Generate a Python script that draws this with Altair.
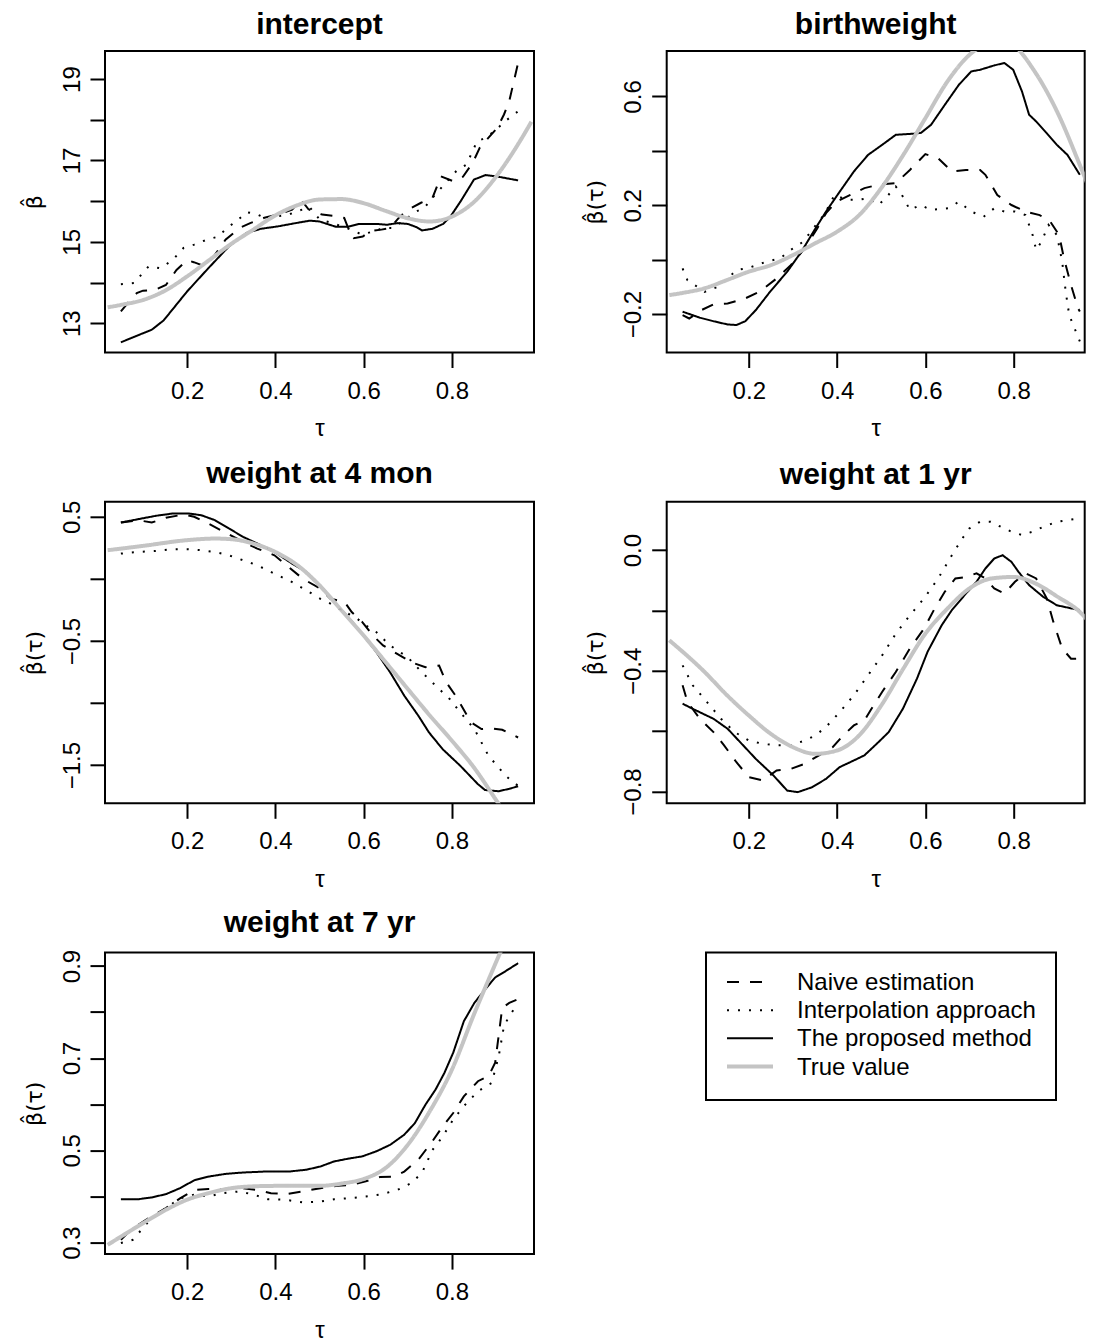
import altair as alt
import pandas as pd

METHODS = ["Naive estimation", "Interpolation approach", "The proposed method", "True value"]
COLORS = ["black", "black", "black", "#c4c4c4"]
DASHES = [[12, 11], [2, 9], [1, 0], [1, 0]]
TAU_TICKS = [0.2, 0.4, 0.6, 0.8]
TAU_DOMAIN_LEFT = [0.014, 0.986]
TAU_DOMAIN_RIGHT = [0.014, 0.961]   # right column is cut at the page edge, as in the reference

# ---- intercept ----
INT_NAIVE = [(0.05, 13.29), (0.07, 13.55), (0.086, 13.74), (0.10, 13.80), (0.128, 13.82), (0.152, 13.94),
             (0.176, 14.31), (0.20, 14.55), (0.215, 14.50), (0.24, 14.40), (0.263, 14.68), (0.287, 15.05),
             (0.319, 15.34), (0.343, 15.46), (0.375, 15.59), (0.406, 15.67), (0.438, 15.79), (0.458, 16.04),
             (0.475, 15.80), (0.506, 15.67), (0.53, 15.64), (0.556, 15.59), (0.565, 15.34), (0.578, 15.09),
             (0.598, 15.13), (0.614, 15.26), (0.64, 15.30), (0.66, 15.34), (0.683, 15.63), (0.706, 15.82),
             (0.73, 15.96), (0.756, 16.08), (0.775, 16.61), (0.803, 16.49), (0.825, 16.60), (0.847, 16.94),
             (0.863, 17.31), (0.883, 17.56), (0.903, 17.80), (0.918, 18.13), (0.93, 18.46), (0.95, 19.40)]
INT_INTERP = [(0.05, 13.96), (0.08, 13.99), (0.113, 14.40), (0.14, 14.35), (0.168, 14.56), (0.192, 14.85),
              (0.216, 14.93), (0.244, 15.05), (0.271, 15.13), (0.29, 15.34), (0.311, 15.50), (0.335, 15.73),
              (0.358, 15.68), (0.383, 15.55), (0.406, 15.63), (0.43, 15.67), (0.454, 15.77), (0.478, 15.85),
              (0.50, 15.55), (0.529, 15.46), (0.56, 15.35), (0.596, 15.18), (0.624, 15.26), (0.644, 15.34),
              (0.667, 15.34), (0.694, 15.55), (0.72, 15.75), (0.737, 15.83), (0.762, 16.16), (0.786, 16.45),
              (0.81, 16.74), (0.833, 16.90), (0.857, 17.47), (0.877, 17.56), (0.90, 17.76), (0.925, 18.00),
              (0.95, 18.21)]
INT_PROP = [(0.05, 12.53), (0.097, 12.74), (0.12, 12.84), (0.147, 13.07), (0.20, 13.78), (0.248, 14.35),
            (0.295, 14.89), (0.335, 15.22), (0.367, 15.32), (0.406, 15.38), (0.446, 15.46), (0.478, 15.52),
            (0.50, 15.50), (0.537, 15.37), (0.565, 15.37), (0.59, 15.44), (0.63, 15.44), (0.653, 15.42),
            (0.677, 15.46), (0.70, 15.44), (0.72, 15.36), (0.732, 15.28), (0.756, 15.32), (0.78, 15.44),
            (0.796, 15.61), (0.82, 16.00), (0.85, 16.53), (0.876, 16.64), (0.90, 16.61), (0.95, 16.51)]
INT_TRUE = [(0.02, 13.39), (0.05, 13.45), (0.10, 13.57), (0.15, 13.80), (0.20, 14.15), (0.25, 14.55),
            (0.30, 14.95), (0.35, 15.30), (0.40, 15.65), (0.45, 15.90), (0.50, 16.04), (0.55, 16.05),
            (0.60, 15.95), (0.65, 15.76), (0.70, 15.58), (0.75, 15.50), (0.80, 15.62), (0.85, 15.98),
            (0.90, 16.60), (0.95, 17.40), (0.98, 17.95)]

# ---- birthweight ----
BW_NAIVE = [(0.05, -0.204), (0.065, -0.216), (0.093, -0.185), (0.12, -0.164), (0.152, -0.161), (0.192, -0.142),
            (0.224, -0.118), (0.263, -0.069), (0.295, -0.02), (0.327, 0.042), (0.355, 0.115), (0.375, 0.171),
            (0.398, 0.213), (0.43, 0.238), (0.462, 0.263), (0.498, 0.277), (0.533, 0.281), (0.565, 0.33),
            (0.60, 0.388), (0.629, 0.373), (0.66, 0.324), (0.692, 0.33), (0.724, 0.33), (0.736, 0.312),
            (0.763, 0.238), (0.795, 0.201), (0.827, 0.177), (0.859, 0.164), (0.883, 0.14), (0.903, 0.091),
            (0.914, 0.005), (0.93, -0.093), (0.946, -0.179), (0.95, -0.19)]
BW_INTERP = [(0.05, -0.032), (0.061, -0.075), (0.10, -0.118), (0.129, -0.10), (0.152, -0.069), (0.172, -0.038),
             (0.20, -0.03), (0.24, -0.007), (0.271, 0.005), (0.295, 0.036), (0.323, 0.066), (0.346, 0.115),
             (0.367, 0.158), (0.383, 0.201), (0.394, 0.238), (0.422, 0.22), (0.446, 0.22), (0.47, 0.226),
             (0.494, 0.201), (0.513, 0.232), (0.533, 0.269), (0.545, 0.244), (0.565, 0.183), (0.589, 0.201),
             (0.613, 0.183), (0.652, 0.189), (0.676, 0.213), (0.704, 0.177), (0.732, 0.158), (0.756, 0.189),
             (0.779, 0.177), (0.803, 0.177), (0.827, 0.164), (0.843, 0.091), (0.851, 0.036), (0.863, 0.066),
             (0.879, 0.128), (0.898, 0.091), (0.91, -0.007), (0.918, -0.118), (0.926, -0.204), (0.95, -0.30)]
BW_PROP = [(0.05, -0.191), (0.089, -0.213), (0.12, -0.226), (0.152, -0.238), (0.172, -0.24), (0.192, -0.226),
           (0.216, -0.185), (0.248, -0.118), (0.287, -0.044), (0.319, 0.029), (0.351, 0.115), (0.375, 0.177),
           (0.406, 0.25), (0.438, 0.324), (0.47, 0.385), (0.502, 0.422), (0.533, 0.459), (0.573, 0.463),
           (0.59, 0.466), (0.613, 0.496), (0.644, 0.569), (0.676, 0.643), (0.704, 0.692), (0.724, 0.698),
           (0.756, 0.714), (0.779, 0.723), (0.799, 0.698), (0.819, 0.618), (0.835, 0.533), (0.851, 0.508),
           (0.875, 0.465), (0.898, 0.422), (0.922, 0.385), (0.95, 0.312)]
BW_TRUE = [(0.02, -0.13), (0.05, -0.122), (0.10, -0.105), (0.15, -0.075), (0.20, -0.044), (0.25, -0.02),
           (0.30, 0.017), (0.35, 0.06), (0.40, 0.103), (0.45, 0.164), (0.50, 0.263), (0.55, 0.385),
           (0.60, 0.52), (0.65, 0.655), (0.70, 0.753), (0.74, 0.795), (0.765, 0.81), (0.79, 0.80),
           (0.85, 0.686), (0.90, 0.539), (0.95, 0.348), (0.98, 0.226)]

# ---- weight at 4 mon ----
M4_NAIVE = [(0.05, 0.454), (0.089, 0.473), (0.12, 0.454), (0.152, 0.492), (0.192, 0.519), (0.216, 0.50),
            (0.248, 0.446), (0.287, 0.373), (0.327, 0.298), (0.359, 0.244), (0.398, 0.19), (0.43, 0.096),
            (0.462, 0.002), (0.502, -0.079), (0.525, -0.16), (0.557, -0.186), (0.573, -0.267), (0.597, -0.348),
            (0.621, -0.456), (0.644, -0.536), (0.676, -0.604), (0.708, -0.671), (0.74, -0.711), (0.771, -0.698),
            (0.787, -0.832), (0.811, -0.954), (0.843, -1.155), (0.867, -1.209), (0.89, -1.204), (0.914, -1.215),
            (0.95, -1.277)]
M4_INTERP = [(0.05, 0.204), (0.089, 0.217), (0.129, 0.225), (0.168, 0.239), (0.20, 0.239), (0.232, 0.231),
             (0.263, 0.217), (0.295, 0.19), (0.327, 0.15), (0.359, 0.11), (0.398, 0.042), (0.438, -0.025),
             (0.47, -0.092), (0.502, -0.16), (0.533, -0.213), (0.557, -0.267), (0.581, -0.308), (0.605, -0.375),
             (0.629, -0.429), (0.66, -0.536), (0.70, -0.631), (0.732, -0.752), (0.763, -0.859), (0.795, -0.967),
             (0.819, -1.075), (0.851, -1.209), (0.883, -1.425), (0.906, -1.519), (0.922, -1.586), (0.95, -1.667)]
M4_PROP = [(0.05, 0.454), (0.089, 0.481), (0.129, 0.508), (0.168, 0.527), (0.204, 0.527), (0.232, 0.513),
           (0.263, 0.473), (0.295, 0.406), (0.327, 0.338), (0.359, 0.285), (0.398, 0.217), (0.438, 0.123),
           (0.47, 0.056), (0.502, -0.052), (0.533, -0.186), (0.565, -0.308), (0.597, -0.442), (0.629, -0.59),
           (0.66, -0.752), (0.692, -0.94), (0.724, -1.102), (0.748, -1.236), (0.779, -1.371), (0.819, -1.505),
           (0.859, -1.653), (0.875, -1.70), (0.906, -1.71), (0.93, -1.69), (0.95, -1.67)]
M4_TRUE = [(0.02, 0.231), (0.10, 0.266), (0.20, 0.312), (0.263, 0.325), (0.30, 0.32), (0.35, 0.285),
           (0.40, 0.217), (0.45, 0.11), (0.50, -0.052), (0.55, -0.254), (0.60, -0.456), (0.65, -0.671),
           (0.70, -0.886), (0.75, -1.10), (0.80, -1.303), (0.85, -1.519), (0.90, -1.78), (0.95, -2.05),
           (0.98, -2.22)]

# ---- weight at 1 yr ----
Y1_NAIVE = [(0.05, -0.448), (0.061, -0.503), (0.089, -0.559), (0.12, -0.603), (0.144, -0.647), (0.172, -0.703),
            (0.20, -0.752), (0.232, -0.763), (0.263, -0.73), (0.295, -0.725), (0.327, -0.708), (0.359, -0.68),
            (0.39, -0.653), (0.414, -0.614), (0.438, -0.581), (0.462, -0.564), (0.478, -0.526), (0.502, -0.47),
            (0.533, -0.404), (0.565, -0.326), (0.597, -0.26), (0.621, -0.194), (0.644, -0.138), (0.668, -0.094),
            (0.692, -0.089), (0.716, -0.077), (0.736, -0.094), (0.756, -0.127), (0.779, -0.144), (0.803, -0.105),
            (0.827, -0.077), (0.851, -0.094), (0.875, -0.16), (0.89, -0.238), (0.91, -0.326), (0.93, -0.36),
            (0.95, -0.36)]
Y1_INTERP = [(0.05, -0.382), (0.073, -0.448), (0.105, -0.503), (0.137, -0.559), (0.168, -0.603), (0.20, -0.631),
             (0.232, -0.642), (0.263, -0.647), (0.295, -0.647), (0.327, -0.631), (0.351, -0.614), (0.375, -0.586),
             (0.406, -0.537), (0.438, -0.481), (0.47, -0.415), (0.502, -0.349), (0.533, -0.277), (0.565, -0.216),
             (0.597, -0.16), (0.629, -0.094), (0.66, -0.017), (0.684, 0.039), (0.70, 0.072), (0.724, 0.094),
             (0.748, 0.094), (0.771, 0.077), (0.795, 0.061), (0.819, 0.05), (0.843, 0.061), (0.867, 0.077),
             (0.898, 0.094), (0.926, 0.10), (0.95, 0.105)]
Y1_PROP = [(0.05, -0.509), (0.073, -0.526), (0.12, -0.559), (0.152, -0.592), (0.184, -0.642), (0.216, -0.692),
           (0.256, -0.747), (0.287, -0.797), (0.311, -0.802), (0.343, -0.786), (0.375, -0.758), (0.406, -0.719),
           (0.438, -0.697), (0.462, -0.68), (0.494, -0.636), (0.517, -0.603), (0.549, -0.526), (0.581, -0.426),
           (0.605, -0.337), (0.637, -0.249), (0.66, -0.199), (0.692, -0.144), (0.716, -0.105), (0.736, -0.061),
           (0.756, -0.028), (0.775, -0.017), (0.795, -0.039), (0.811, -0.072), (0.835, -0.116), (0.867, -0.155),
           (0.898, -0.183), (0.95, -0.199)]
Y1_TRUE = [(0.02, -0.299), (0.10, -0.404), (0.15, -0.48), (0.20, -0.548), (0.25, -0.609), (0.30, -0.653),
           (0.35, -0.675), (0.40, -0.664), (0.45, -0.614), (0.50, -0.515), (0.55, -0.393), (0.60, -0.277),
           (0.65, -0.194), (0.70, -0.127), (0.75, -0.094), (0.80, -0.089), (0.85, -0.111), (0.90, -0.155),
           (0.95, -0.205), (0.98, -0.254)]

# ---- weight at 7 yr ----
Y7_NAIVE = [(0.05, 0.306), (0.073, 0.328), (0.113, 0.353), (0.152, 0.375), (0.184, 0.396), (0.216, 0.414),
            (0.248, 0.416), (0.287, 0.416), (0.327, 0.418), (0.359, 0.414), (0.39, 0.407), (0.43, 0.406),
            (0.462, 0.411), (0.502, 0.418), (0.541, 0.423), (0.573, 0.425), (0.605, 0.433), (0.637, 0.442),
            (0.668, 0.443), (0.692, 0.454), (0.724, 0.48), (0.756, 0.52), (0.779, 0.552), (0.803, 0.581),
            (0.827, 0.617), (0.859, 0.65), (0.883, 0.661), (0.898, 0.69), (0.914, 0.809), (0.93, 0.82),
            (0.95, 0.828)]
Y7_INTERP = [(0.05, 0.299), (0.077, 0.306), (0.113, 0.346), (0.152, 0.375), (0.184, 0.396), (0.216, 0.404),
             (0.248, 0.40), (0.279, 0.407), (0.319, 0.411), (0.351, 0.404), (0.383, 0.394), (0.422, 0.393),
             (0.462, 0.387), (0.502, 0.389), (0.533, 0.394), (0.565, 0.396), (0.605, 0.40), (0.637, 0.404),
             (0.676, 0.414), (0.708, 0.429), (0.732, 0.451), (0.756, 0.501), (0.779, 0.53), (0.803, 0.567),
             (0.827, 0.596), (0.859, 0.628), (0.89, 0.646), (0.906, 0.704), (0.918, 0.77), (0.93, 0.791),
             (0.95, 0.82)]
Y7_PROP = [(0.05, 0.394), (0.089, 0.394), (0.12, 0.398), (0.152, 0.405), (0.184, 0.418), (0.216, 0.435),
           (0.248, 0.443), (0.287, 0.449), (0.327, 0.452), (0.375, 0.454), (0.43, 0.454), (0.47, 0.458),
           (0.502, 0.465), (0.533, 0.476), (0.565, 0.482), (0.597, 0.487), (0.629, 0.498), (0.66, 0.512),
           (0.692, 0.534), (0.716, 0.559), (0.74, 0.599), (0.763, 0.632), (0.783, 0.668), (0.803, 0.712),
           (0.827, 0.78), (0.851, 0.82), (0.875, 0.849), (0.898, 0.875), (0.922, 0.889), (0.95, 0.906)]
Y7_TRUE = [(0.02, 0.295), (0.10, 0.342), (0.152, 0.371), (0.20, 0.393), (0.248, 0.407), (0.30, 0.418),
           (0.35, 0.422), (0.40, 0.423), (0.45, 0.423), (0.50, 0.423), (0.55, 0.428), (0.60, 0.438),
           (0.65, 0.462), (0.70, 0.512), (0.75, 0.585), (0.80, 0.675), (0.85, 0.795), (0.883, 0.87),
           (0.91, 0.93), (0.95, 1.01), (0.98, 1.07)]

FONT = "Liberation Sans"
YTITLE_FONT = "DejaVu Sans"
WL, WR, H = 429, 418, 301.5

color_enc = alt.Color("method:N", scale=alt.Scale(domain=METHODS, range=COLORS), legend=None)
dash_enc = alt.StrokeDash("method:N", scale=alt.Scale(domain=METHODS, range=DASHES), legend=None)


def panel(title, ytitle, series, ydomain, yticks, ylabelled, yfmt, width, xdomain):
    rows = []
    for method, pts in zip(METHODS, series):
        for t, v in pts:
            rows.append({"tau": t, "value": v, "method": method})
    df = pd.DataFrame(rows)
    keep = ",".join(str(k) for k in ylabelled)
    x = alt.X("tau:Q", title="τ",
              scale=alt.Scale(domain=xdomain, nice=False, zero=False),
              axis=alt.Axis(values=TAU_TICKS, format=".1f", tickSize=15, tickWidth=2, tickColor="black",
                            labelFontSize=24, labelPadding=11.5, labelColor="black", labelFont=FONT,
                            labelFlush=False, labelOverlap=False, grid=False, domain=False,
                            titleFontSize=24, titleFontWeight="normal", titleFont=FONT, titleColor="black",
                            titlePadding=14, minExtent=50, maxExtent=50))
    y = alt.Y("value:Q", title=ytitle,
              scale=alt.Scale(domain=ydomain, nice=False, zero=False),
              axis=alt.Axis(values=yticks, format=yfmt,
                            labelExpr=f"indexof([{keep}], round(datum.value*10)) >= 0 ? datum.label : ''",
                            labelAngle=270, labelAlign="center", labelBaseline="bottom",
                            tickSize=15, tickWidth=2, tickColor="black",
                            labelFontSize=24, labelPadding=6, labelColor="black", labelFont=FONT,
                            labelFlush=False, labelOverlap=False, grid=False, domain=False,
                            titleFontSize=22, titleFontWeight="normal", titleFont=YTITLE_FONT,
                            titleColor="black", titleAngle=270, titleBaseline="bottom", titleAlign="center",
                            titlePadding=14, minExtent=45, maxExtent=45))
    base = alt.Chart(df).encode(x=x, y=y, color=color_enc, strokeDash=dash_enc)
    est = base.transform_filter(alt.datum.method != "True value").mark_line(strokeWidth=2, clip=True)
    tru = base.transform_filter(alt.datum.method == "True value").mark_line(
        strokeWidth=4, clip=True, interpolate="monotone")
    return alt.layer(est, tru).properties(
        width=width, height=H,
        title=alt.TitleParams(title, fontSize=30, fontWeight="bold", font=FONT, color="black",
                              anchor="middle", frame="group", baseline="alphabetic", offset=-12.5))


p1 = panel("intercept", "β̂", [INT_NAIVE, INT_INTERP, INT_PROP, INT_TRUE], [12.28, 19.69],
           [13, 14, 15, 16, 17, 18, 19], [130, 150, 170, 190], "d", WL, TAU_DOMAIN_LEFT)
p2 = panel("birthweight", "β̂(τ)", [BW_NAIVE, BW_INTERP, BW_PROP, BW_TRUE], [-0.341, 0.767],
           [-0.2, 0.0, 0.2, 0.4, 0.6], [-2, 2, 6], ".1f", WR, TAU_DOMAIN_RIGHT)
p3 = panel("weight at 4 mon", "β̂(τ)", [M4_NAIVE, M4_INTERP, M4_PROP, M4_TRUE], [-1.807, 0.621],
           [-1.5, -1.0, -0.5, 0.0, 0.5], [-15, -5, 5], ".1f", WL, TAU_DOMAIN_LEFT)
p4 = panel("weight at 1 yr", "β̂(τ)", [Y1_NAIVE, Y1_INTERP, Y1_PROP, Y1_TRUE], [-0.839, 0.160],
           [-0.8, -0.6, -0.4, -0.2, 0.0], [-8, -4, 0], ".1f", WR, TAU_DOMAIN_RIGHT)
p5 = panel("weight at 7 yr", "β̂(τ)", [Y7_NAIVE, Y7_INTERP, Y7_PROP, Y7_TRUE], [0.275, 0.929],
           [0.3, 0.4, 0.5, 0.6, 0.7, 0.8, 0.9], [3, 5, 7, 9], ".1f", WL, TAU_DOMAIN_LEFT)

# ---- legend panel ----
leg_df = pd.DataFrame({"method": METHODS})
leg_y = alt.Y("method:N", sort=METHODS, axis=None,
              scale=alt.Scale(type="point", domain=METHODS, range=[29.3, 114], padding=0))
box = alt.Chart(pd.DataFrame({"k": [0]})).mark_rect(fill="white", stroke="black", strokeWidth=2).encode(
    x=alt.value(39.3), x2=alt.value(389.3), y=alt.value(0), y2=alt.value(147.3))
leg_lines = alt.Chart(leg_df).mark_rule().encode(
    x=alt.value(60.3), x2=alt.value(106.3), y=leg_y, color=color_enc, strokeDash=dash_enc,
    strokeWidth=alt.condition(alt.datum.method == "True value", alt.value(4), alt.value(2)))
leg_text = alt.Chart(leg_df).mark_text(align="left", baseline="middle", fontSize=24, font=FONT,
                                       color="black", dy=1).encode(
    x=alt.value(130.3), y=leg_y, text="method:N")
legend = alt.layer(box, leg_lines, leg_text).properties(
    width=WR, height=H, view=alt.ViewBackground(stroke="transparent"))

chart = alt.concat(p1, p2, p3, p4, p5, legend, columns=2, bounds="flush",
                   spacing={"row": 148.8, "column": 132.7}).properties(
    padding={"left": 14, "top": 0, "right": 0, "bottom": 0}
).resolve_scale(y="independent", x="independent").configure(font=FONT).configure_view(
    stroke="black", strokeWidth=2)

chart.save("out.html", embed_options={"renderer": "svg", "actions": False})
